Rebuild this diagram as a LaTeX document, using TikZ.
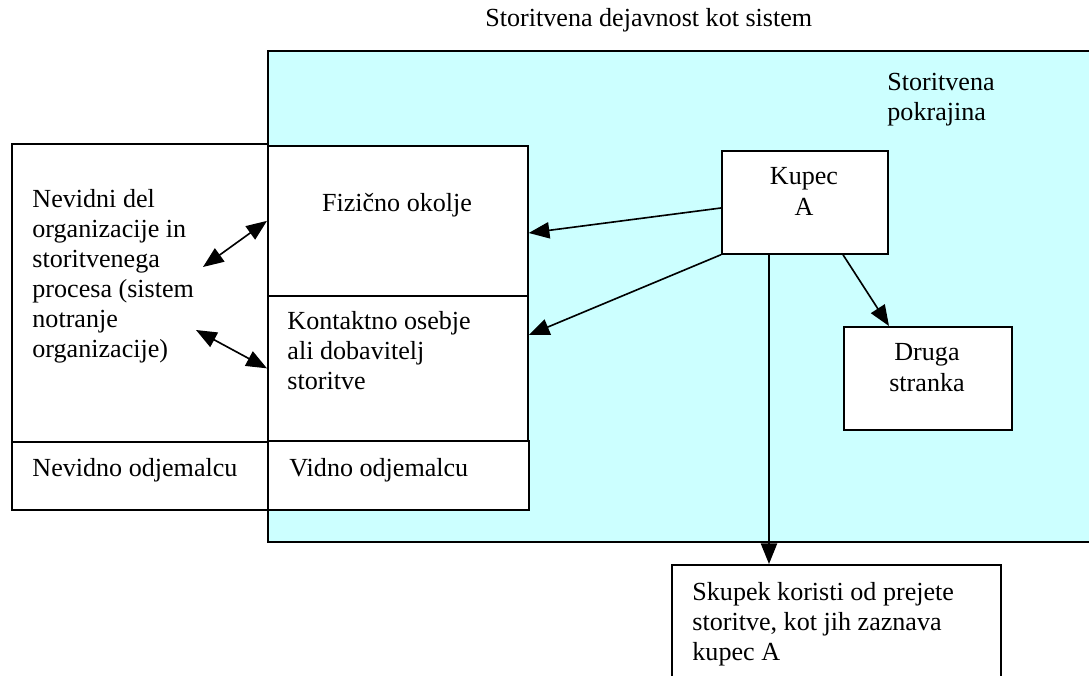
\documentclass[tikz,border=0pt]{standalone}
\usepackage{fontspec}
\setmainfont{Liberation Serif}
\usetikzlibrary{arrows.meta}
\definecolor{cyanbg}{HTML}{CCFFFF}
\tikzset{
  box/.style={draw, line width=0.8pt, fill=white, inner sep=0pt, anchor=north west},
  txt/.style={anchor=base west, inner sep=0pt, font=\fontsize{12}{13.8}\selectfont},
  ctxt/.style={anchor=base, inner sep=0pt, font=\fontsize{12}{13.8}\selectfont},
  arr/.style={line width=0.75pt, -{Triangle[length=9.5pt,width=7.5pt]}},
  darr/.style={line width=0.75pt, {Triangle[length=9.5pt,width=7.5pt]}-{Triangle[length=9.5pt,width=7.5pt]}}
}
\newcommand\pxbox[5]{\node[box, minimum width={(#4-#2)*0.46pt}, minimum height={(#5-#3)*0.46pt}] (#1) at (#2,#3) {};}
\begin{document}
\begin{tikzpicture}[x=0.46pt,y=-0.46pt]
\useasboundingbox (0,0) rectangle (1089,676);
\clip (0,0) rectangle (1089,676);
% service region
\node[box, fill=cyanbg, minimum width={840*0.46pt}, minimum height={491*0.46pt}] (region) at (267,50) {};
% boxes
\pxbox{left}{11}{143}{267}{441}
\pxbox{nevidno}{11}{441}{267}{509}
\pxbox{fiz}{267}{145}{527}{295}
\pxbox{kont}{267}{295}{527}{440}
\pxbox{vidno}{267}{440}{528}{509}
\pxbox{kupec}{721}{150}{887}{253}
\pxbox{druga}{843}{326}{1011}{429}
\pxbox{skupek}{671}{564}{1000}{700}
% texts
\node[txt] (title) at (485,27) {Storitvena dejavnost kot sistem};
\node[txt] (prov1) at (887,91) {Storitvena};
\node[txt] (prov2) at (887,121) {pokrajina};
\node[txt] (l1) at (32,208) {Nevidni del};
\node[txt] (l2) at (32,238) {organizacije in};
\node[txt] (l3) at (32,268) {storitvenega};
\node[txt] (l4) at (32,298) {procesa (sistem};
\node[txt] (l5) at (32,328) {notranje};
\node[txt] (l6) at (32,358) {organizacije)};
\node[txt] (nev) at (32,477) {Nevidno odjemalcu};
\node[txt] (vid) at (289,477) {Vidno odjemalcu};
\node[ctxt] (fizt) at (397,212) {Fizično okolje};
\node[txt] (k1) at (287,330) {Kontaktno osebje};
\node[txt] (k2) at (287,360) {ali dobavitelj};
\node[txt] (k3) at (287,390) {storitve};
\node[ctxt] (ku1) at (804,185) {Kupec};
\node[ctxt] (ku2) at (804,216) {A};
\node[ctxt] (dr1) at (927,361) {Druga};
\node[ctxt] (dr2) at (927,392) {stranka};
\node[txt] (s1) at (692,601) {Skupek koristi od prejete};
\node[txt] (s2) at (692,631) {storitve, kot jih zaznava};
\node[txt] (s3) at (692,661) {kupec A};
% connectors
\coordinate (p1) at (203,267);
\coordinate (p2) at (196,330);
\draw[darr] (p1) -- (fiz.west);
\draw[darr] (p2) -- (kont.west);
\draw[arr] (kupec.west |- 0,208) -- (fiz.east |- 0,233);
\draw[arr] (kupec.south west) -- (kont.east |- 0,335);
\draw[arr] (843,0 |- kupec.south) -- (889,0 |- druga.north);
\draw[arr] (769,0 |- kupec.south) -- (769,0 |- skupek.north);
\end{tikzpicture}
\end{document}
